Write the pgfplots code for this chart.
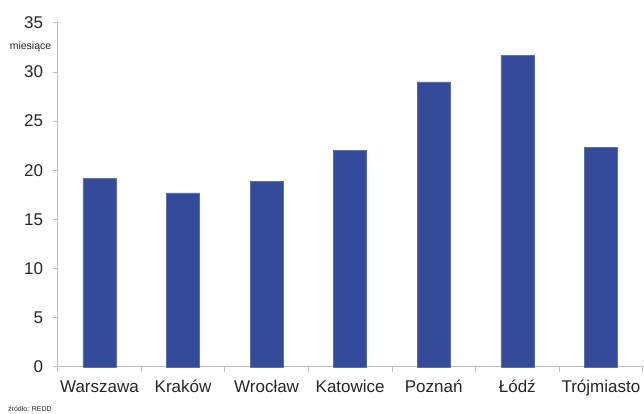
\documentclass[border=0pt]{standalone}
\usepackage{fontspec}
\setmainfont{Liberation Sans}
\usepackage{pgfplots}
\pgfplotsset{compat=1.18}
\definecolor{barblue}{HTML}{344A9A}
\definecolor{axgray}{HTML}{BFBFBF}
\definecolor{txt}{HTML}{262626}
\begin{document}
\begin{tikzpicture}[x=1pt,y=1pt]
\useasboundingbox (0,0) rectangle (644,413);
\begin{axis}[
  at={(69,47)}, anchor=south west,
  scale only axis, width=585pt, height=344pt,
  ybar, bar width=33pt,
  xmin=-0.5, xmax=6.5, ymin=0, ymax=35,
  ytick={0,5,...,35},
  xtick={0,...,6},
  xticklabels={Warszawa,Kraków,Wrocław,Katowice,Poznań,Łódź,Trójmiasto},
  minor xtick={-0.5,0.5,...,6.5},
  axis x line*=bottom, axis y line*=left,
  axis line style={axgray, line width=0.8pt, -},
  every tick/.style={axgray, line width=0.8pt},
  tick align=outside,
  major tick length=5pt, minor tick length=5pt,
  major x tick style={draw=none},
  minor x tick style={draw=axgray, line width=0.8pt},
  /pgf/number format/assume math mode=true,
  tick label style={font=\fontsize{17}{19}\selectfont, text=txt},
  xticklabel style={yshift=-5pt},
  yticklabel style={xshift=-6pt},
  clip=false,
]
\addplot[fill=barblue, draw=barblue!80!white] coordinates {
(0,19.2) (1,17.7) (2,18.9) (3,22.0) (4,29.0) (5,31.7) (6,22.3)};
\node[font=\fontsize{10.5}{12}\selectfont, text=txt, anchor=east] at (rel axis cs:-0.005,0.93) {miesiące};
\end{axis}
\node[font=\fontsize{7}{8}\selectfont, text=txt, anchor=south west, inner sep=1pt] at (7,0) {źródło: REDD};
\end{tikzpicture}
\end{document}
